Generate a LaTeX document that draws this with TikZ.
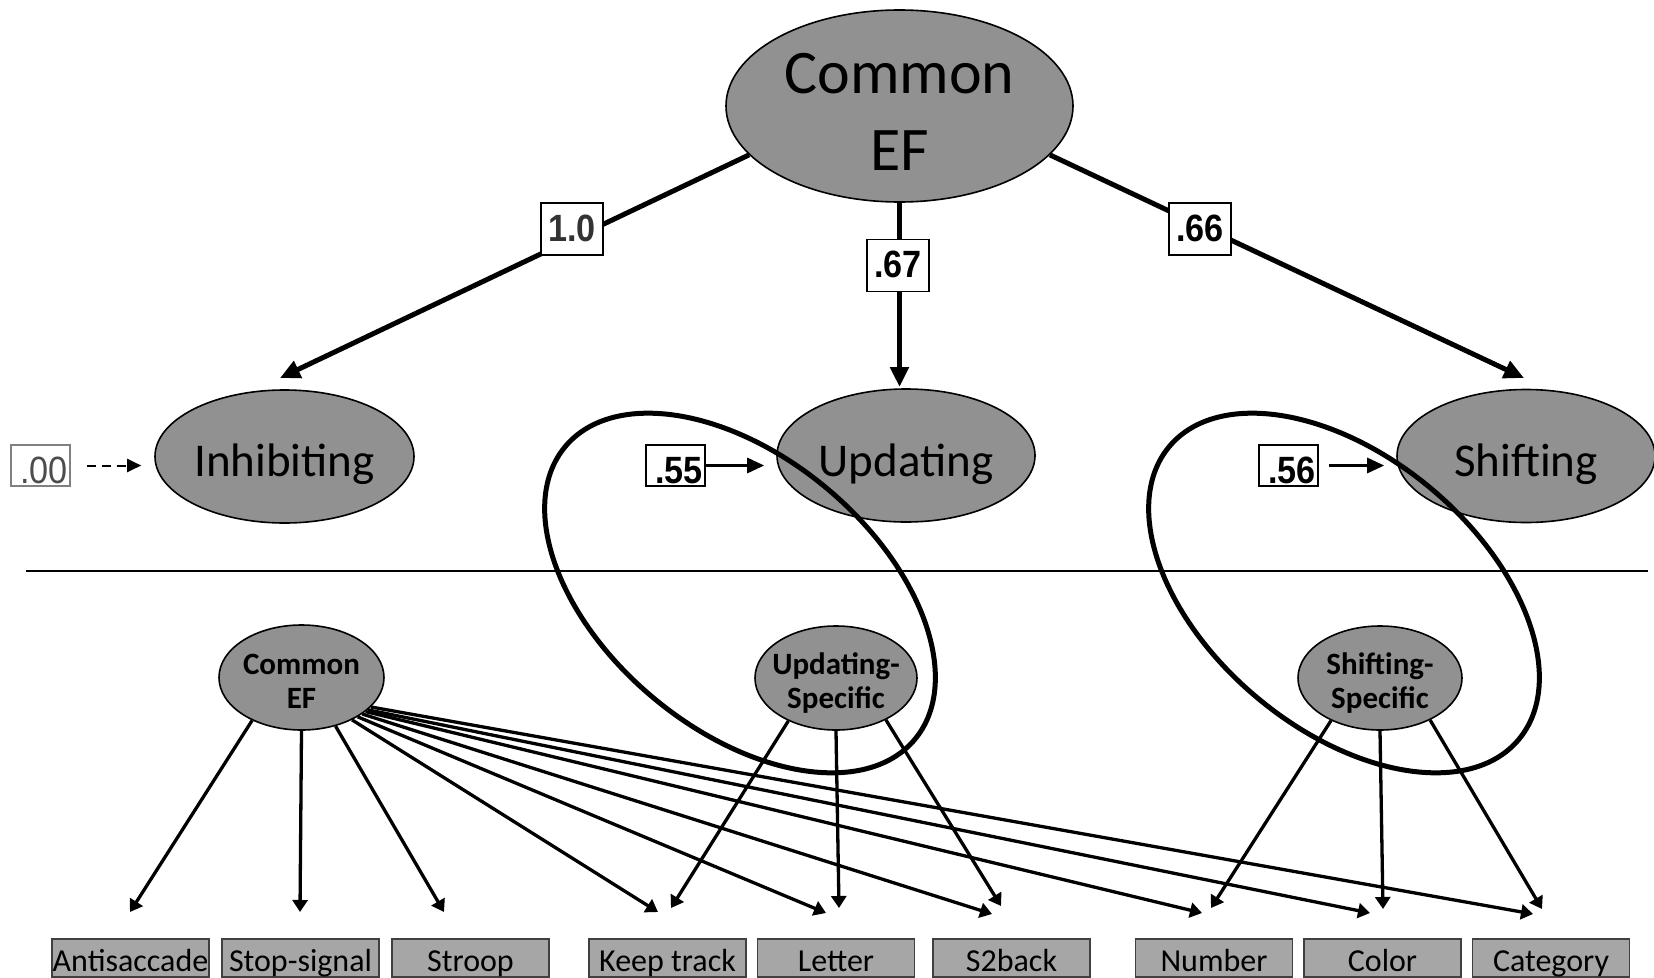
\documentclass[tikz,border=0pt]{standalone}
\usepackage{fontspec}
\setmainfont{Carlito}
\newfontfamily\coeffont{Liberation Sans}[FakeStretch=0.9]
\usetikzlibrary{arrows.meta,shapes.geometric}
\definecolor{latentfill}{gray}{0.57}
\definecolor{taskfill}{gray}{0.65}
\begin{document}
\begin{tikzpicture}[x=1pt,y=-1pt,
  latent/.style={ellipse, draw=black, line width=1.6pt, fill=latentfill, inner sep=0pt},
  bigname/.style={font=\fontsize{47}{56}\selectfont, anchor=base, inner sep=0pt},
  smallname/.style={font=\bfseries\fontsize{31}{34}\selectfont, align=center, inner sep=0pt},
  coefbig/.style={draw=black, line width=1.2pt, fill=white, inner sep=0pt,
    minimum width=62pt, text height=38pt, text depth=14pt,
    font=\coeffont\bfseries\fontsize{38}{40}\selectfont},
  coefmid/.style={draw=black, line width=1.2pt, fill=white, inner xsep=2pt, inner ysep=0pt,
    text width=55pt, align=right, text height=38pt, text depth=3pt,
    font=\coeffont\bfseries\fontsize{38}{40}\selectfont},
  toplink/.style={line width=5pt, -{Triangle[length=20pt,width=18pt]}},
  midlink/.style={line width=3pt, -{Triangle[length=17pt,width=15pt]}},
  loadlink/.style={line width=3.3pt, -{Triangle[length=12pt,width=15pt]}},
  grouploop/.style={line width=5pt},
  taskbox/.style={draw=black!75, line width=1.5pt, fill=taskfill, inner sep=0pt,
    minimum width=157pt, text height=33pt, text depth=5pt, anchor=north,
    font=\fontsize{32}{36}\selectfont}
]
\useasboundingbox (0,0) rectangle (1654,977);
\clip (0,0) rectangle (1654,977);

% ---- upper model: common factor and the three EF factors ----
\node[latent, minimum width=347pt, minimum height=192pt] (cef) at (899.5,106) {};
\node[font=\fontsize{62}{77}\selectfont, align=center, inner sep=0pt] (cef-t) at (899.5,111.5) {Common\\EF};

\node[latent, minimum width=259pt, minimum height=133pt] (inh) at (284.5,456.5) {};
\node[latent, minimum width=258pt, minimum height=133pt] (upd) at (906,455.5) {};
\node[latent, minimum width=258pt, minimum height=133pt] (shf) at (1526,456) {};

% grouping loops around the factors that share variance
\draw[grouploop, rotate around={-40:(740,593)}] (740,593) ellipse [x radius=228, y radius=136];
\draw[grouploop, rotate around={-40:(1344,593)}] (1344,593) ellipse [x radius=228, y radius=136];

\node[bigname] (inh-t) at (284.5,476) {Inhibiting};
\node[bigname] (upd-t) at (906,476) {Updating};
\node[bigname] (shf-t) at (1526,476) {Shifting};

% loadings of the three factors on Common EF
\coordinate (tip-inh) at (280,378);
\coordinate (tip-upd) at (899.5,387);
\coordinate (tip-shf) at (1524,378);
\draw[toplink] (cef.198) -- (tip-inh);
\draw[toplink] (cef.south) -- (tip-upd);
\draw[toplink] (cef.342) -- (tip-shf);

\node[coefbig, text=black!80] (c10) at (572,229) {1.0};
\node[coefbig] (c67) at (898,265.5) {.67};
\node[coefbig] (c66) at (1200,229) {.66};

% residual (factor-specific) variances
\node[coefmid, draw=black!50, text=black!70, font=\coeffont\fontsize{38}{40}\selectfont] (c00) at (40.5,465.5) {.00};
\node[coefmid] (c55) at (675.5,465.5) {.55};
\node[coefmid] (c56) at (1288.5,465.5) {.56};

\draw[line width=2pt, dash pattern=on 9pt off 6pt, -{Triangle[length=14pt,width=13pt]},
  shorten <=16pt, shorten >=13pt] (c00.east) -- (c00.east -| inh.west);
\draw[midlink, shorten >=12pt] (c55.east) -- (c55.east -| upd.west);
\draw[midlink, shorten <=10pt, shorten >=12pt] (c56.east) -- (c56.east -| shf.west);

% separator between the two model forms
\coordinate (rule-l) at (26,571);
\coordinate (rule-r) at (1648,571);
\draw[line width=1.8pt] (rule-l) -- (rule-r);

% ---- lower model: common and specific factors ----
\node[latent, minimum width=165pt, minimum height=105pt] (cef2) at (301.5,677.5) {};
\node[latent, minimum width=162pt, minimum height=104pt] (us) at (836,678) {};
\node[latent, minimum width=164pt, minimum height=104pt] (ss) at (1380,678) {};
\node[smallname] (cef2-t) at (301.5,681) {Common\\EF};
\node[smallname] (us-t) at (836,683) {Updating-\\Specific};
\node[smallname] (ss-t) at (1380,683) {Shifting-\\Specific};

% task boxes
\node[taskbox] (antisac) at (130.5,938) {Antisaccade};
\node[taskbox] (stopsig) at (300.5,938) {Stop-signal};
\node[taskbox] (stroop) at (470.5,938) {Stroop};
\node[taskbox] (keeptr) at (667.5,938) {Keep track};
\node[taskbox] (letter) at (836,938) {Letter};
\node[taskbox] (s2back) at (1011.5,938) {S2back};
\node[taskbox] (number) at (1214,938) {Number};
\node[taskbox] (color) at (1382.5,938) {Color};
\node[taskbox] (category) at (1551,938) {Category};

% arrow tips above the task boxes
\coordinate (antisac-c) at (130,912);
\coordinate (stopsig-c) at (300,912);
\coordinate (stroop-c) at (444,912);
\coordinate (keeptr-c) at (658,912);
\coordinate (letter-c) at (826,913);
\coordinate (s2back-c) at (992,914);
\coordinate (number-c) at (1202,913);
\coordinate (color-c) at (1370,913);
\coordinate (category-c) at (1533,914);
\coordinate (keeptr-s) at (671,908);
\coordinate (letter-s) at (839,908);
\coordinate (s2back-s) at (1001,906);
\coordinate (number-s) at (1211,908);
\coordinate (color-s) at (1383,909);
\coordinate (category-s) at (1542,909);

% common factor loads on every task
\draw[loadlink] (cef2.221) -- (antisac-c);
\draw[loadlink] (cef2.270) -- (stopsig-c);
\draw[loadlink] (cef2.305) -- (stroop-c);
\draw[loadlink] (cef2.320) -- (keeptr-c);
\draw[loadlink] (cef2.325) -- (letter-c);
\draw[loadlink] (cef2.329) -- (s2back-c);
\draw[loadlink] (cef2.332) -- (number-c);
\draw[loadlink] (cef2.334.5) -- (color-c);
\draw[loadlink] (cef2.337) -- (category-c);

% specific factors
\draw[loadlink] (us.222) -- (keeptr-s);
\draw[loadlink] (us.270) -- (letter-s);
\draw[loadlink] (us.320) -- (s2back-s);
\draw[loadlink] (ss.221) -- (number-s);
\draw[loadlink] (ss.270) -- (color-s);
\draw[loadlink] (ss.320) -- (category-s);
\end{tikzpicture}
\end{document}
